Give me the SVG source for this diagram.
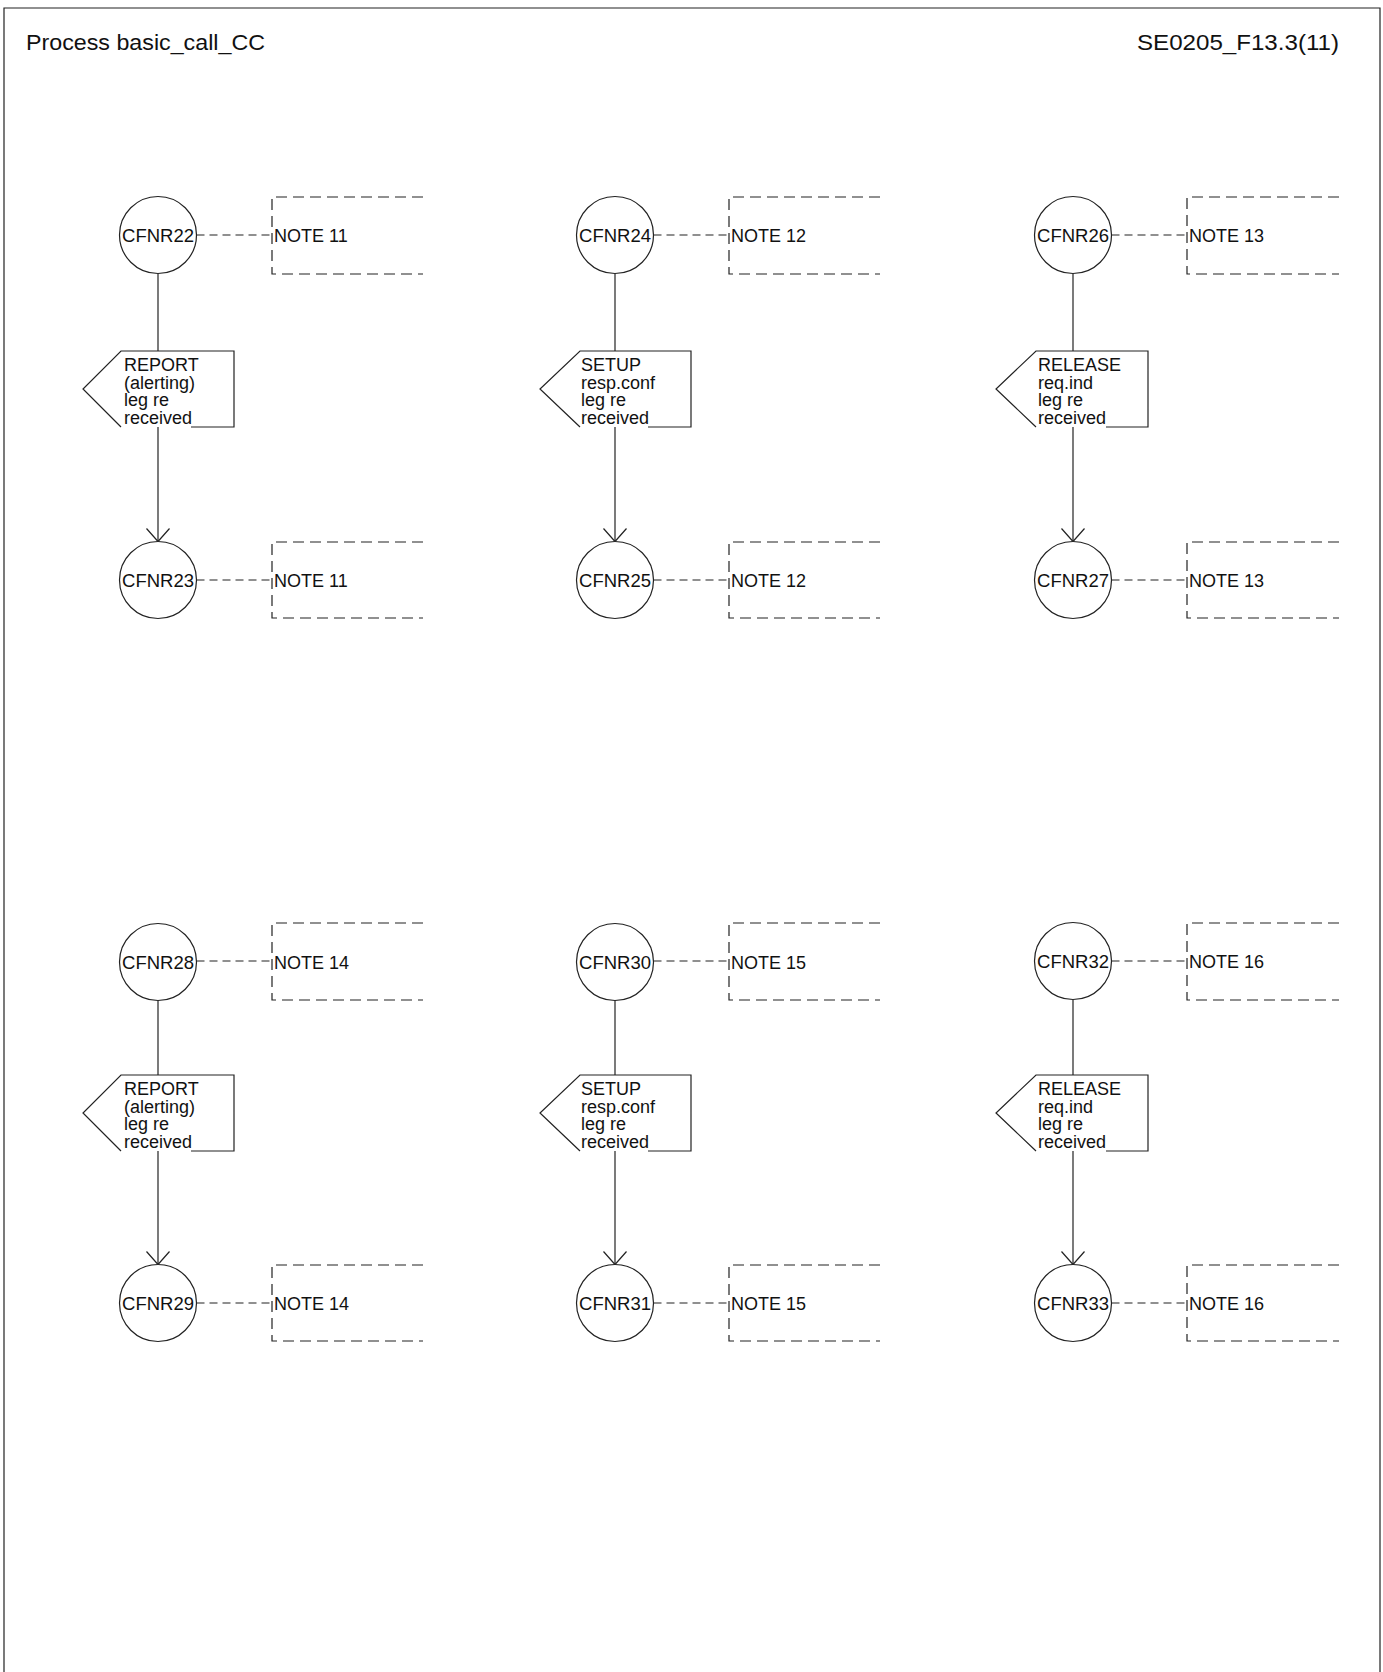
<svg xmlns="http://www.w3.org/2000/svg" width="1383" height="1672" viewBox="0 0 1383 1672">
<style>
.t{font-family:"Liberation Sans",Arial,sans-serif;font-size:18px;fill:#111}
.cl{font-family:"Liberation Sans",Arial,sans-serif;font-size:18.5px;fill:#111;text-anchor:middle}
.ttl{font-family:"Liberation Sans",Arial,sans-serif;font-size:21.5px;fill:#111}
.ln{fill:none;stroke:#222;stroke-width:1.2}
.c{fill:#fff;stroke:#222;stroke-width:1.2}
.nb{fill:none;stroke:#222;stroke-width:1.2;stroke-dasharray:11 6}
.dc{fill:none;stroke:#222;stroke-width:1.2;stroke-dasharray:8 5}
</style>
<defs>
<marker id="arr" markerUnits="userSpaceOnUse" markerWidth="30" markerHeight="30" refX="15" refY="15" orient="auto" viewBox="0 0 30 30">
<path d="M2,3.5 L15,15 L2,26.5" fill="none" stroke="#222" stroke-width="1.2"/>
</marker>
</defs>
<rect x="0" y="0" width="1383" height="1672" fill="#fff"/>
<path class="ln" d="M4,1672 V8 H1380 V1672" stroke-width="1.5"/>
<text class="ttl" x="26" y="50" textLength="239" lengthAdjust="spacingAndGlyphs">Process basic_call_CC</text>
<text class="ttl" x="1137" y="50" textLength="202" lengthAdjust="spacingAndGlyphs">SE0205_F13.3(11)</text>

<g id="connectors">
<line class="dc" x1="196.5" y1="235" x2="272" y2="235"/>
<line class="ln" x1="158" y1="273.5" x2="158" y2="351"/>
<line class="ln" x1="158" y1="427" x2="158" y2="541.5" marker-end="url(#arr)"/>
<line class="dc" x1="196.5" y1="580" x2="272" y2="580"/>
<line class="dc" x1="196.5" y1="961" x2="272" y2="961"/>
<line class="ln" x1="158" y1="999.5" x2="158" y2="1075"/>
<line class="ln" x1="158" y1="1151" x2="158" y2="1264.5" marker-end="url(#arr)"/>
<line class="dc" x1="196.5" y1="1303" x2="272" y2="1303"/>
<line class="dc" x1="653.5" y1="235" x2="729" y2="235"/>
<line class="ln" x1="615" y1="273.5" x2="615" y2="351"/>
<line class="ln" x1="615" y1="427" x2="615" y2="541.5" marker-end="url(#arr)"/>
<line class="dc" x1="653.5" y1="580" x2="729" y2="580"/>
<line class="dc" x1="653.5" y1="961" x2="729" y2="961"/>
<line class="ln" x1="615" y1="999.5" x2="615" y2="1075"/>
<line class="ln" x1="615" y1="1151" x2="615" y2="1264.5" marker-end="url(#arr)"/>
<line class="dc" x1="653.5" y1="1303" x2="729" y2="1303"/>
<line class="dc" x1="1111.5" y1="235" x2="1187" y2="235"/>
<line class="ln" x1="1073" y1="273.5" x2="1073" y2="351"/>
<line class="ln" x1="1073" y1="427" x2="1073" y2="541.5" marker-end="url(#arr)"/>
<line class="dc" x1="1111.5" y1="580" x2="1187" y2="580"/>
<line class="dc" x1="1111.5" y1="961" x2="1187" y2="961"/>
<line class="ln" x1="1073" y1="999.5" x2="1073" y2="1075"/>
<line class="ln" x1="1073" y1="1151" x2="1073" y2="1264.5" marker-end="url(#arr)"/>
<line class="dc" x1="1111.5" y1="1303" x2="1187" y2="1303"/>
</g>

<g id="CFNR22"><circle class="c" cx="158" cy="235" r="38.5"/><text class="cl" x="158" y="242">CFNR22</text></g>
<g id="note11a"><path class="nb" d="M423,197 H272 V274 H423"/><text class="t" x="274" y="242">NOTE 11</text></g>
<g id="sig1"><path class="ln" d="M191,427 H234 V351 H121 L83,389 L121,427"/>
<text class="t" x="124" y="371">REPORT</text><text class="t" x="124" y="388.7">(alerting)</text><text class="t" x="124" y="406.4">leg re</text><text class="t" x="124" y="424">received</text></g>
<g id="CFNR23"><circle class="c" cx="158" cy="580" r="38.5"/><text class="cl" x="158" y="587">CFNR23</text></g>
<g id="note11b"><path class="nb" d="M423,542 H272 V618 H423"/><text class="t" x="274" y="587">NOTE 11</text></g>

<g id="CFNR28"><circle class="c" cx="158" cy="962" r="38.5"/><text class="cl" x="158" y="969">CFNR28</text></g>
<g id="note14a"><path class="nb" d="M423,923 H272 V1000 H423"/><text class="t" x="274" y="969">NOTE 14</text></g>
<g id="sig4"><path class="ln" d="M191,1151 H234 V1075 H121 L83,1113 L121,1151"/>
<text class="t" x="124" y="1095">REPORT</text><text class="t" x="124" y="1112.7">(alerting)</text><text class="t" x="124" y="1130.4">leg re</text><text class="t" x="124" y="1148">received</text></g>
<g id="CFNR29"><circle class="c" cx="158" cy="1303" r="38.5"/><text class="cl" x="158" y="1310">CFNR29</text></g>
<g id="note14b"><path class="nb" d="M423,1265 H272 V1341 H423"/><text class="t" x="274" y="1310">NOTE 14</text></g>

<g id="CFNR24"><circle class="c" cx="615" cy="235" r="38.5"/><text class="cl" x="615" y="242">CFNR24</text></g>
<g id="note12a"><path class="nb" d="M880,197 H729 V274 H880"/><text class="t" x="731" y="242">NOTE 12</text></g>
<g id="sig2"><path class="ln" d="M648,427 H691 V351 H580 L540,389 L580,427"/>
<text class="t" x="581" y="371">SETUP</text><text class="t" x="581" y="388.7">resp.conf</text><text class="t" x="581" y="406.4">leg re</text><text class="t" x="581" y="424">received</text></g>
<g id="CFNR25"><circle class="c" cx="615" cy="580" r="38.5"/><text class="cl" x="615" y="587">CFNR25</text></g>
<g id="note12b"><path class="nb" d="M880,542 H729 V618 H880"/><text class="t" x="731" y="587">NOTE 12</text></g>

<g id="CFNR30"><circle class="c" cx="615" cy="962" r="38.5"/><text class="cl" x="615" y="969">CFNR30</text></g>
<g id="note15a"><path class="nb" d="M880,923 H729 V1000 H880"/><text class="t" x="731" y="969">NOTE 15</text></g>
<g id="sig5"><path class="ln" d="M648,1151 H691 V1075 H580 L540,1113 L580,1151"/>
<text class="t" x="581" y="1095">SETUP</text><text class="t" x="581" y="1112.7">resp.conf</text><text class="t" x="581" y="1130.4">leg re</text><text class="t" x="581" y="1148">received</text></g>
<g id="CFNR31"><circle class="c" cx="615" cy="1303" r="38.5"/><text class="cl" x="615" y="1310">CFNR31</text></g>
<g id="note15b"><path class="nb" d="M880,1265 H729 V1341 H880"/><text class="t" x="731" y="1310">NOTE 15</text></g>

<g id="CFNR26"><circle class="c" cx="1073" cy="235" r="38.5"/><text class="cl" x="1073" y="242">CFNR26</text></g>
<g id="note13a"><path class="nb" d="M1339,197 H1187 V274 H1339"/><text class="t" x="1189" y="242">NOTE 13</text></g>
<g id="sig3"><path class="ln" d="M1106,427 H1148 V351 H1036 L996,389 L1036,427"/>
<text class="t" x="1038" y="371">RELEASE</text><text class="t" x="1038" y="388.7">req.ind</text><text class="t" x="1038" y="406.4">leg re</text><text class="t" x="1038" y="424">received</text></g>
<g id="CFNR27"><circle class="c" cx="1073" cy="580" r="38.5"/><text class="cl" x="1073" y="587">CFNR27</text></g>
<g id="note13b"><path class="nb" d="M1339,542 H1187 V618 H1339"/><text class="t" x="1189" y="587">NOTE 13</text></g>

<g id="CFNR32"><circle class="c" cx="1073" cy="961" r="38.5"/><text class="cl" x="1073" y="968">CFNR32</text></g>
<g id="note16a"><path class="nb" d="M1339,923 H1187 V1000 H1339"/><text class="t" x="1189" y="968">NOTE 16</text></g>
<g id="sig6"><path class="ln" d="M1106,1151 H1148 V1075 H1036 L996,1113 L1036,1151"/>
<text class="t" x="1038" y="1095">RELEASE</text><text class="t" x="1038" y="1112.7">req.ind</text><text class="t" x="1038" y="1130.4">leg re</text><text class="t" x="1038" y="1148">received</text></g>
<g id="CFNR33"><circle class="c" cx="1073" cy="1303" r="38.5"/><text class="cl" x="1073" y="1310">CFNR33</text></g>
<g id="note16b"><path class="nb" d="M1339,1265 H1187 V1341 H1339"/><text class="t" x="1189" y="1310">NOTE 16</text></g>
</svg>
